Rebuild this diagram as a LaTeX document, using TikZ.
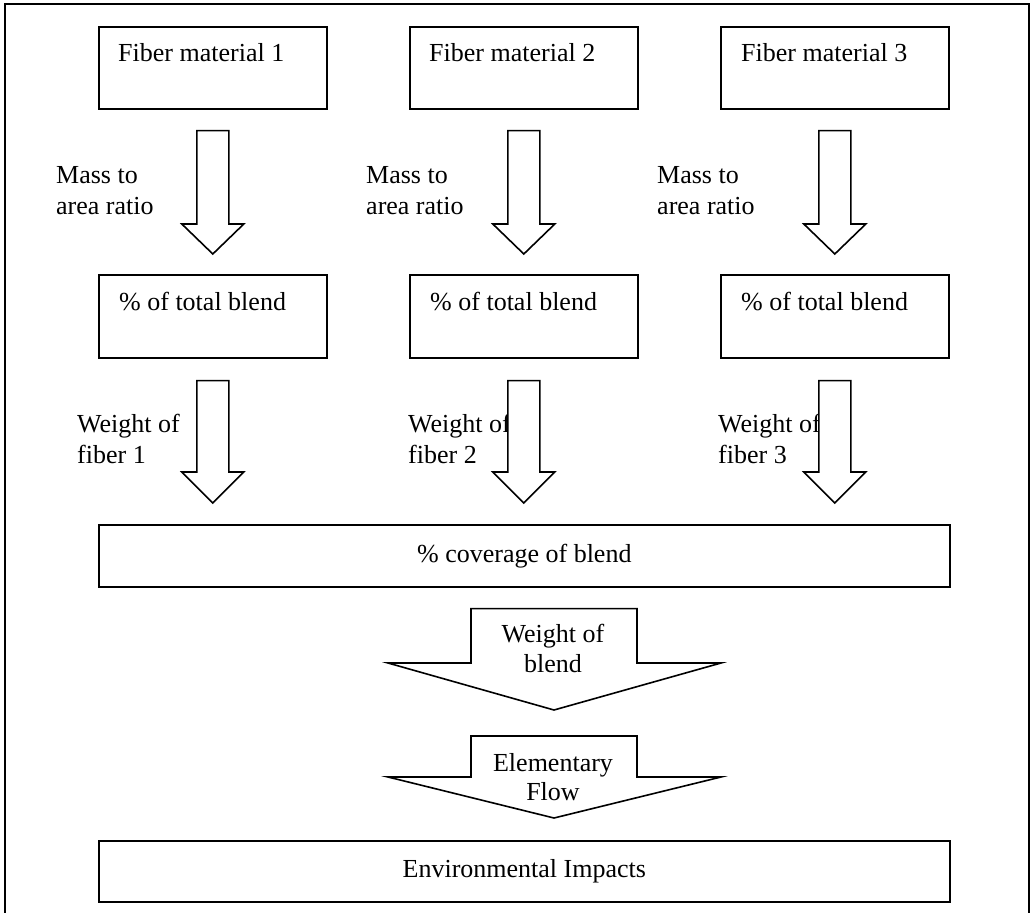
\documentclass[tikz,border=0pt]{standalone}
\usepackage{fontspec}
\setmainfont{Liberation Serif}
\usetikzlibrary{calc}

% Downward block arrow between two nodes:
% #1 source node, #2 target node, #3 half shaft width, #4 half head width,
% #5 head length, #6 gap below source, #7 gap above target
\newcommand{\blockdown}[7]{%
  \draw[blockarrow] let \p1=(#1.south), \p2=(#2.north) in
    (\x1-#3pt,\y1-#6pt) -- (\x1+#3pt,\y1-#6pt) --
    (\x1+#3pt,\y2+#7pt+#5pt) -- (\x1+#4pt,\y2+#7pt+#5pt) --
    (\x1,\y2+#7pt) --
    (\x1-#4pt,\y2+#7pt+#5pt) -- (\x1-#3pt,\y2+#7pt+#5pt) -- cycle;}

\begin{document}
\begin{tikzpicture}[x=1pt,y=-1pt,
  every node/.style={font=\fontsize{26}{31}\selectfont, text=black},
  box/.style={draw=black, line width=1.6pt, fill=white, inner sep=0pt, anchor=north west},
  lbl/.style={anchor=base west, inner sep=0pt},
  blockarrow/.style={draw=black, line width=1.6pt, fill=white, line join=miter}]

\useasboundingbox (0,0) rectangle (1032,912);

% outer frame (open at the bottom edge of the page)
\draw[line width=1.8pt] (5,930) -- (5,4) -- (1029,4) -- (1029,930);

% first row: the three fibre materials
\node[box, minimum width=228pt, minimum height=82pt] (f1) at (98,26) {};
\node[box, minimum width=228pt, minimum height=82pt] (f2) at (409,26) {};
\node[box, minimum width=228pt, minimum height=82pt] (f3) at (720,26) {};
\node[lbl] (f1t) at (118,62) {Fiber material 1};
\node[lbl] (f2t) at (429,62) {Fiber material 2};
\node[lbl] (f3t) at (741,62) {Fiber material 3};

% second row: share of the blend
\node[box, minimum width=228pt, minimum height=83pt] (p1) at (98,274) {};
\node[box, minimum width=228pt, minimum height=83pt] (p2) at (409,274) {};
\node[box, minimum width=228pt, minimum height=83pt] (p3) at (720,274) {};
\node[lbl] (p1t) at (119,310) {\% of total blend};
\node[lbl] (p2t) at (430,310) {\% of total blend};
\node[lbl] (p3t) at (741,310) {\% of total blend};

% coverage and impacts
\node[box, minimum width=851pt, minimum height=62pt] (cov) at (98,524) {\% coverage of blend};
\node[box, minimum width=851pt, minimum height=61pt] (env) at (98,840) {Environmental Impacts};

% labels beside the thin arrows
\node[lbl] (m1a) at (56,183) {Mass to};
\node[lbl] (m1b) at (56,214) {area ratio};
\node[lbl] (m2a) at (366,183) {Mass to};
\node[lbl] (m2b) at (366,214) {area ratio};
\node[lbl] (m3a) at (657,183) {Mass to};
\node[lbl] (m3b) at (657,214) {area ratio};

\node[lbl] (w1a) at (77,432) {Weight of};
\node[lbl] (w1b) at (77,463) {fiber 1};
\node[lbl] (w2a) at (408,432) {Weight of};
\node[lbl] (w2b) at (408,463) {fiber 2};
\node[lbl] (w3a) at (718,432) {Weight of};
\node[lbl] (w3b) at (718,463) {fiber 3};

% thin arrows (white filled, drawn over the labels)
\blockdown{f1}{p1}{16}{31}{30}{21}{20}
\blockdown{f2}{p2}{16}{31}{30}{21}{20}
\blockdown{f3}{p3}{16}{31}{30}{21}{20}

\draw[blockarrow] let \p1=(p1.south), \p2=(cov.north) in
  (\x1-16pt,\y1-22pt) -- (\x1+16pt,\y1-22pt) -- (\x1+16pt,\y2+52pt) -- (\x1+31pt,\y2+52pt) --
  (\x1,\y2+21pt) -- (\x1-31pt,\y2+52pt) -- (\x1-16pt,\y2+52pt) -- cycle;
\draw[blockarrow] let \p1=(p2.south), \p2=(cov.north) in
  (\x1-16pt,\y1-22pt) -- (\x1+16pt,\y1-22pt) -- (\x1+16pt,\y2+52pt) -- (\x1+31pt,\y2+52pt) --
  (\x1,\y2+21pt) -- (\x1-31pt,\y2+52pt) -- (\x1-16pt,\y2+52pt) -- cycle;
\draw[blockarrow] let \p1=(p3.south), \p2=(cov.north) in
  (\x1-16pt,\y1-22pt) -- (\x1+16pt,\y1-22pt) -- (\x1+16pt,\y2+52pt) -- (\x1+31pt,\y2+52pt) --
  (\x1,\y2+21pt) -- (\x1-31pt,\y2+52pt) -- (\x1-16pt,\y2+52pt) -- cycle;

% wide arrows from the coverage box down to the impacts box
\coordinate (wtip) at (554,710);
\coordinate (etop) at (554,736);
\draw[blockarrow] let \p1=(cov.south), \p2=(wtip) in
  (\x2-83pt,\y1-21pt) -- (\x2+83pt,\y1-21pt) -- (\x2+83pt,\y2+47pt) -- (\x2+167pt,\y2+47pt) --
  (\p2) -- (\x2-166pt,\y2+47pt) -- (\x2-83pt,\y2+47pt) -- cycle;
\draw[blockarrow] let \p1=(etop), \p2=(env.north) in
  (\x1-83pt,\y1) -- (\x1+83pt,\y1) -- (\x1+83pt,\y2+63pt) -- (\x1+167pt,\y2+63pt) --
  (\x1,\y2+22pt) -- (\x1-166pt,\y2+63pt) -- (\x1-83pt,\y2+63pt) -- cycle;

\node[anchor=base, inner sep=0pt] (wb1) at (553,642) {Weight of};
\node[anchor=base, inner sep=0pt] (wb2) at (553,672) {blend};
\node[anchor=base, inner sep=0pt] (ef1) at (553,771) {Elementary};
\node[anchor=base, inner sep=0pt] (ef2) at (553,800) {Flow};
\end{tikzpicture}
\end{document}
